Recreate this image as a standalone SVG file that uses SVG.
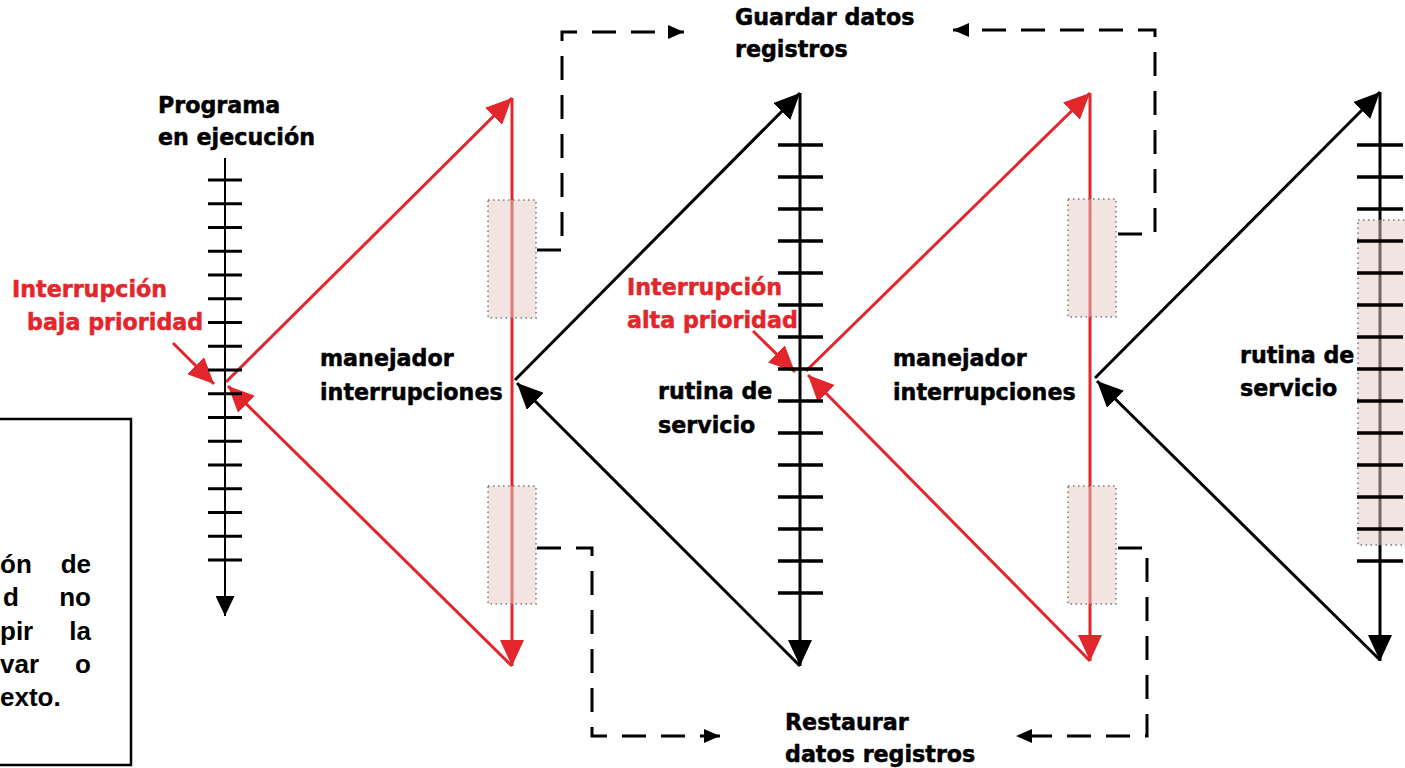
<svg xmlns="http://www.w3.org/2000/svg" width="1405" height="768" viewBox="0 0 1405 768">
  <style>
    .lbl { font-family: "DejaVu Sans", Verdana, sans-serif; font-weight: bold; font-size: 22.2px; fill: #000; stroke: #000; stroke-width: 0.5; }
    .red { fill: #e3262b; stroke: #e3262b; }
    .note { font-family: "Liberation Sans", Arial, sans-serif; font-weight: bold; font-size: 26px; fill: #000; }
    .axis { stroke: #000; stroke-width: 3; fill: none; }
    .axis-thin { stroke: #000; stroke-width: 2; fill: none; }
    .tick { stroke: #000; stroke-width: 3.5; }
    .tick-thin { stroke: #000; stroke-width: 3; }
    .flow-red { stroke: #e3262b; stroke-width: 3; fill: none; }
    .flow-black { stroke: #000; stroke-width: 3; fill: none; }
    .dash { stroke: #000; stroke-width: 3; fill: none; stroke-dasharray: 24 15; }
    .save { fill: #e5c9c1; fill-opacity: 0.5; stroke: #7a7a7a; stroke-width: 1.5; stroke-dasharray: 1.5 3.5; }
  </style>
  <defs>
    <marker id="ah-red" markerUnits="userSpaceOnUse" markerWidth="26" markerHeight="24" viewBox="0 0 26 24" refX="26" refY="12" orient="auto">
      <path d="M0,0 L26,12 L0,24 z" fill="#e3262b"/>
    </marker>
    <marker id="ah-black" markerUnits="userSpaceOnUse" markerWidth="26" markerHeight="24" viewBox="0 0 26 24" refX="26" refY="12" orient="auto">
      <path d="M0,0 L26,12 L0,24 z" fill="#000"/>
    </marker>
    <marker id="ah-small" markerUnits="userSpaceOnUse" markerWidth="20" markerHeight="19" viewBox="0 0 20 19" refX="20" refY="9.5" orient="auto">
      <path d="M0,0 L20,9.5 L0,19 z" fill="#000"/>
    </marker>
    <marker id="ah-dash" markerUnits="userSpaceOnUse" markerWidth="16" markerHeight="14" viewBox="0 0 16 14" refX="16" refY="7" orient="auto">
      <path d="M0,0 L16,7 L0,14 z" fill="#000"/>
    </marker>
  </defs>

  <rect width="1405" height="768" fill="#fff"/>

  <!-- note box, cut by the left edge (justified paragraph tails) -->
  <g id="note">
    <rect x="-20" y="419" width="151" height="346" fill="#fff" stroke="#000" stroke-width="2.5"/>
    <text class="note" y="573"><tspan x="0">ón</tspan><tspan x="91" text-anchor="end">de</tspan></text>
    <text class="note" y="606"><tspan x="3">d</tspan><tspan x="91" text-anchor="end">no</tspan></text>
    <text class="note" y="640"><tspan x="0">pir</tspan><tspan x="91" text-anchor="end">la</tspan></text>
    <text class="note" y="673"><tspan x="0">var</tspan><tspan x="91" text-anchor="end">o</tspan></text>
    <text class="note" y="706"><tspan x="0">exto.</tspan></text>
  </g>

  <!-- execution flow -->
  <g id="connectors">
    <!-- low priority interrupt: program -> handler -> back -->
    <line class="flow-red" x1="226" y1="382" x2="512" y2="98" marker-end="url(#ah-red)"/>
    <line class="flow-red" x1="512" y1="98" x2="512" y2="666" marker-end="url(#ah-red)"/>
    <line class="flow-red" x1="512" y1="666" x2="228" y2="386" marker-end="url(#ah-red)"/>
    <!-- handler -> first service routine -> back -->
    <line class="flow-black" x1="515" y1="380" x2="800" y2="93" marker-end="url(#ah-black)"/>
    <line class="flow-black" x1="800" y1="666" x2="517" y2="383" marker-end="url(#ah-black)"/>
    <!-- high priority interrupt inside the routine -->
    <line class="flow-red" x1="806" y1="371" x2="1090" y2="93" marker-end="url(#ah-red)"/>
    <line class="flow-red" x1="1090" y1="93" x2="1090" y2="661" marker-end="url(#ah-red)"/>
    <line class="flow-red" x1="1090" y1="661" x2="808" y2="375" marker-end="url(#ah-red)"/>
    <!-- second handler -> second service routine -> back -->
    <line class="flow-black" x1="1095" y1="378" x2="1380" y2="92" marker-end="url(#ah-black)"/>
    <line class="flow-black" x1="1380" y1="660" x2="1097" y2="381" marker-end="url(#ah-black)"/>
    <!-- label pointers -->
    <line class="flow-red" x1="173" y1="343" x2="214" y2="384" marker-end="url(#ah-red)"/>
    <line class="flow-red" x1="753" y1="331" x2="795" y2="372" marker-end="url(#ah-red)"/>
    <!-- register save / restore -->
    <path class="dash" d="M537,250 H562 V32 H684" marker-end="url(#ah-dash)"/>
    <path class="dash" d="M537,548 H592 V736 H720" marker-end="url(#ah-dash)"/>
    <path class="dash" d="M1118,234 H1155 V30 H953" marker-end="url(#ah-dash)"/>
    <path class="dash" d="M1118,548 H1147 V736 H1016" marker-end="url(#ah-dash)"/>
  </g>

  <!-- running program timeline -->
  <g id="programa">
    <line class="axis-thin" x1="225" y1="158" x2="225" y2="616" marker-end="url(#ah-small)"/>
    <g class="tick-thin">
      <line x1="208" x2="242" y1="180" y2="180"/>
      <line x1="208" x2="242" y1="203.75" y2="203.75"/>
      <line x1="208" x2="242" y1="227.5" y2="227.5"/>
      <line x1="208" x2="242" y1="251.25" y2="251.25"/>
      <line x1="208" x2="242" y1="275" y2="275"/>
      <line x1="208" x2="242" y1="298.75" y2="298.75"/>
      <line x1="208" x2="242" y1="322.5" y2="322.5"/>
      <line x1="208" x2="242" y1="346.25" y2="346.25"/>
      <line x1="208" x2="242" y1="370" y2="370"/>
      <line x1="208" x2="242" y1="393.75" y2="393.75"/>
      <line x1="208" x2="242" y1="417.5" y2="417.5"/>
      <line x1="208" x2="242" y1="441.25" y2="441.25"/>
      <line x1="208" x2="242" y1="465" y2="465"/>
      <line x1="208" x2="242" y1="488.75" y2="488.75"/>
      <line x1="208" x2="242" y1="512.5" y2="512.5"/>
      <line x1="208" x2="242" y1="536.25" y2="536.25"/>
      <line x1="208" x2="242" y1="560" y2="560"/>
    </g>
    <text class="lbl" x="158" y="113">Programa</text>
    <text class="lbl" x="158" y="145">en ejecución</text>
  </g>

  <g id="int-baja">
    <text class="lbl red" x="12" y="297">Interrupción</text>
    <text class="lbl red" x="27" y="330">baja prioridad</text>
  </g>

  <!-- first interrupt handler -->
  <g id="manejador-1">
    <rect class="save" x="488" y="200" width="48" height="118"/>
    <rect class="save" x="488" y="486" width="48" height="118"/>
    <text class="lbl" x="320" y="366">manejador</text>
    <text class="lbl" x="320" y="400">interrupciones</text>
  </g>

  <g id="guardar">
    <text class="lbl" x="735" y="25">Guardar datos</text>
    <text class="lbl" x="735" y="57">registros</text>
  </g>

  <!-- first service routine -->
  <g id="rutina-1">
    <line class="axis" x1="800" y1="93" x2="800" y2="666" marker-end="url(#ah-black)"/>
    <g class="tick">
      <line x1="778" x2="823" y1="145" y2="145"/>
      <line x1="778" x2="823" y1="177" y2="177"/>
      <line x1="778" x2="823" y1="209" y2="209"/>
      <line x1="778" x2="823" y1="241" y2="241"/>
      <line x1="778" x2="823" y1="273" y2="273"/>
      <line x1="778" x2="823" y1="305" y2="305"/>
      <line x1="778" x2="823" y1="337" y2="337"/>
      <line x1="778" x2="823" y1="369" y2="369"/>
      <line x1="778" x2="823" y1="401" y2="401"/>
      <line x1="778" x2="823" y1="433" y2="433"/>
      <line x1="778" x2="823" y1="465" y2="465"/>
      <line x1="778" x2="823" y1="497" y2="497"/>
      <line x1="778" x2="823" y1="529" y2="529"/>
      <line x1="778" x2="823" y1="561" y2="561"/>
      <line x1="778" x2="823" y1="593" y2="593"/>
    </g>
    <text class="lbl" x="658" y="399">rutina de</text>
    <text class="lbl" x="658" y="433">servicio</text>
  </g>

  <g id="int-alta">
    <text class="lbl red" x="627" y="295">Interrupción</text>
    <text class="lbl red" x="627" y="328">alta prioridad</text>
  </g>

  <!-- second interrupt handler -->
  <g id="manejador-2">
    <rect class="save" x="1068" y="199" width="48" height="118"/>
    <rect class="save" x="1068" y="486" width="48" height="118"/>
    <text class="lbl" x="893" y="366">manejador</text>
    <text class="lbl" x="893" y="400">interrupciones</text>
  </g>

  <!-- second service routine -->
  <g id="rutina-2">
    <line class="axis" x1="1380" y1="92" x2="1380" y2="661" marker-end="url(#ah-black)"/>
    <rect class="save" x="1358" y="220" width="52" height="325"/>
    <g class="tick">
      <line x1="1357" x2="1403" y1="145" y2="145"/>
      <line x1="1357" x2="1403" y1="177" y2="177"/>
      <line x1="1357" x2="1403" y1="209" y2="209"/>
      <line x1="1357" x2="1403" y1="241" y2="241"/>
      <line x1="1357" x2="1403" y1="273" y2="273"/>
      <line x1="1357" x2="1403" y1="305" y2="305"/>
      <line x1="1357" x2="1403" y1="337" y2="337"/>
      <line x1="1357" x2="1403" y1="369" y2="369"/>
      <line x1="1357" x2="1403" y1="401" y2="401"/>
      <line x1="1357" x2="1403" y1="433" y2="433"/>
      <line x1="1357" x2="1403" y1="465" y2="465"/>
      <line x1="1357" x2="1403" y1="497" y2="497"/>
      <line x1="1357" x2="1403" y1="529" y2="529"/>
      <line x1="1357" x2="1403" y1="561" y2="561"/>
    </g>
    <text class="lbl" x="1240" y="363">rutina de</text>
    <text class="lbl" x="1240" y="396">servicio</text>
  </g>

  <g id="restaurar">
    <text class="lbl" x="785" y="730">Restaurar</text>
    <text class="lbl" x="785" y="762">datos registros</text>
  </g>
</svg>
